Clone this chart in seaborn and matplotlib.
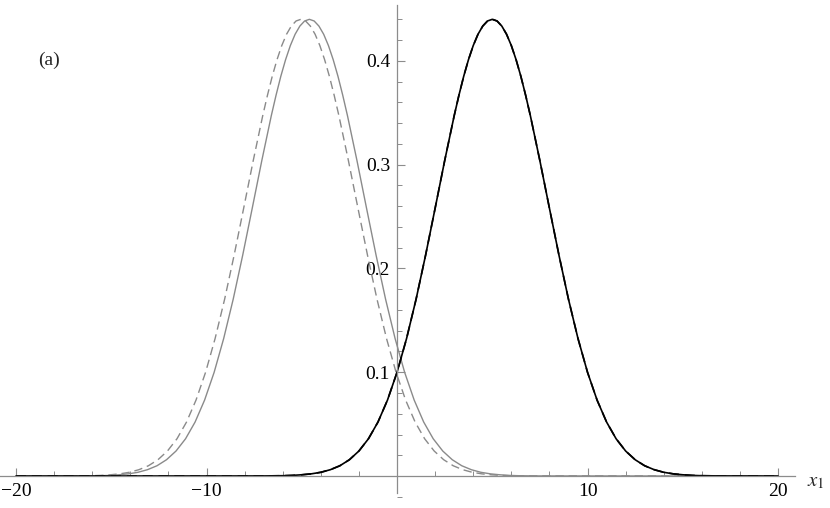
import numpy as np
import pandas as pd
import matplotlib
matplotlib.use("Agg")
import matplotlib.pyplot as plt
import seaborn as sns
from matplotlib.ticker import MultipleLocator, FixedLocator

# bell profile: distance from the peak and height
dist = [0, 0.25, 0.5, 0.75, 1, 1.25, 1.5, 1.75, 2, 2.5, 3, 3.5, 4, 4.5, 5,
        5.5, 6, 6.5, 7, 7.5, 8, 8.5, 9, 9.5, 10, 10.5, 11, 11.5, 12]
height = [0.440, 0.4384, 0.4335, 0.4256, 0.4147, 0.4011, 0.3851, 0.3669,
          0.3471, 0.3037, 0.2580, 0.2128, 0.1703, 0.1324, 0.0999, 0.0732,
          0.0520, 0.0359, 0.0241, 0.0157, 0.0099, 0.0061, 0.0036, 0.0021,
          0.0012, 0.0006, 0.0003, 0.0002, 0.0001]
offsets = [-d for d in dist[::-1]] + dist[1:]
bell = height[::-1] + height[1:]

curve_names = ["gray solid", "gray dashed", "black solid", "black dashed"]
curve_centers = [-4.6, -5.05, 5.0, 5.0]
curve_colors = ["#8a8a8a", "#8a8a8a", "black", "black"]
curve_styles = ["-", (0, (6, 3.5)), "-", (0, (6, 3.5))]
curve_widths = [1.0, 1.0, 1.2, 1.2]

x_range = (-20, 20)

rows = []
for name, c in zip(curve_names, curve_centers):
    xs = [x_range[0]] + [c + o for o in offsets] + [x_range[1]]
    ys = [0.0] + bell + [0.0]
    rows += [{"curve": name, "x": a, "y": b} for a, b in zip(xs, ys)]
df = pd.DataFrame(rows)

sns.set_style("white")
plt.rcParams["font.family"] = ["Liberation Serif", "DejaVu Serif"]
plt.rcParams["mathtext.fontset"] = "stix"

fig = plt.figure(figsize=(8.3, 5.08), dpi=100)
ax = fig.add_axes([0, 0, 795 / 830, 503 / 508])
ax.patch.set_alpha(0)

for name, col, ls, lw in zip(curve_names, curve_colors, curve_styles, curve_widths):
    sns.lineplot(data=df[df["curve"] == name], x="x", y="y", color=col,
                 linestyle=ls, linewidth=lw, ax=ax, sort=False, estimator=None)

ax.set_xlim(-20.84, 20.89)
ax.set_ylim(-0.0308, 0.4538)

for s in ["top", "right"]:
    ax.spines[s].set_visible(False)
ax.spines["left"].set_position("zero")
ax.spines["bottom"].set_position("zero")
for s in ["left", "bottom"]:
    ax.spines[s].set_color("#8c8c8c")
    ax.spines[s].set_linewidth(0.9)
ax.spines["left"].set_bounds(-0.0165, 0.4538)

ax.xaxis.set_major_locator(FixedLocator([-20, -10, 10, 20]))
ax.xaxis.set_minor_locator(MultipleLocator(2))
ax.yaxis.set_major_locator(FixedLocator([0.1, 0.2, 0.3, 0.4]))
ax.yaxis.set_minor_locator(MultipleLocator(0.02))
ax.set_xticklabels(["\u221220", "\u221210", "10", "20"])
ax.set_yticklabels(["0.1", "0.2", "0.3", "0.4"])
ax.tick_params(which="both", direction="in", color="#8c8c8c", labelsize=14,
               labelcolor="black", bottom=True, left=True, top=False, right=False)
ax.tick_params(which="major", length=6, width=0.8, pad=5)
ax.tick_params(which="minor", length=3.5, width=0.7)
ax.set_xlabel("")
ax.set_ylabel("")

ax.text(21.5, -0.006, "$x_1$", fontsize=15, ha="left", va="center", clip_on=False)
ax.text(-18.85, 0.40, "(a)", fontsize=14, ha="left", va="center")

fig.savefig("out.png", dpi=100)
